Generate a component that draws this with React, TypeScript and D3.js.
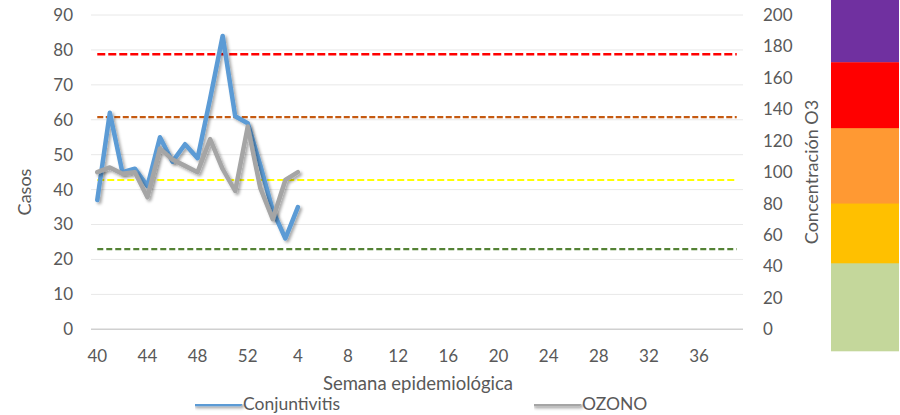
import React, { useEffect, useRef } from 'react';
import * as d3 from 'd3';

// semanas epidemiologicas (40 a 52, luego 1 a 39)
const weeks = [40, 41, 42, 43, 44, 45, 46, 47, 48, 49, 50, 51, 52,
  1, 2, 3, 4, 5, 6, 7, 8, 9, 10, 11, 12, 13, 14, 15, 16, 17, 18, 19, 20,
  21, 22, 23, 24, 25, 26, 27, 28, 29, 30, 31, 32, 33, 34, 35, 36, 37, 38, 39];
const tickWeeks = [40, 44, 48, 52, 4, 8, 12, 16, 20, 24, 28, 32, 36];

const conjuntivitis = [37, 62, 45, 46, 41, 55, 48, 53, 49, 66, 84, 61, 59, 47, 34, 26, 35];
const ozono = [100, 103, 99, 100, 84, 115, 108, 104, 100, 121, 102, 88, 129, 90, 70, 95, 100];

const leftTicks = [0, 10, 20, 30, 40, 50, 60, 70, 80, 90];
const rightTicks = [0, 20, 40, 60, 80, 100, 120, 140, 160, 180, 200];

// limites de ozono (ppb) en eje secundario
const limits = [
  { value: 175, color: '#ff0000', dash: '8,3', w: 2.6 },
  { value: 135, color: '#c55a11', dash: '6,2.5', w: 2.2 },
  { value: 95, color: '#ffff00', dash: '7,3', w: 2.2 },
  { value: 51, color: '#548235', dash: '6,3', w: 2.2 },
];

// bandas de color a la derecha (valores del eje secundario)
const bands = [
  { from: 36, to: 84, color: '#ffc000' },
  { from: 80, to: 130, color: '#ff9933' },
  { from: 128, to: 170, color: '#ff0000' },
  { from: 170, to: 210, color: '#7030a0' },
  { from: -14, to: 42, color: '#c4d79b' },
];

const font = 'Lato, "Open Sans", sans-serif';

const App = () => {
  const ref = useRef<SVGSVGElement>(null);

  useEffect(() => {
    const width = 900, height = 415;
    const left = 91, right = 743, top = 15, bottom = 329.3;
    const svg = d3.select(ref.current);
    svg.selectAll('*').remove();

    const x = d3.scaleBand<number>().domain(weeks).range([left, right]).padding(0);
    const cx = (i: number) => (x(weeks[i]) as number) + x.bandwidth() / 2;
    const y = d3.scaleLinear().domain([0, 90]).range([bottom, top]);
    const y2 = d3.scaleLinear().domain([0, 200]).range([bottom, top]);

    const defs = svg.append('defs');
    const f = defs.append('filter').attr('id', 'sh').attr('filterUnits', 'userSpaceOnUse')
      .attr('x', 0).attr('y', 0).attr('width', width).attr('height', height);
    f.append('feDropShadow').attr('dx', 2).attr('dy', 2).attr('stdDeviation', 1.8)
      .attr('flood-color', '#000').attr('flood-opacity', 0.35);

    // gridlines
    svg.append('g').selectAll('line').data(leftTicks).enter().append('line')
      .attr('x1', left).attr('x2', right)
      .attr('y1', d => y(d)).attr('y2', d => y(d))
      .attr('stroke', d => (d === 0 ? '#d0d0d0' : '#e8e8e8'))
      .attr('stroke-width', d => (d === 0 ? 1.5 : 1));

    // left ticks
    svg.append('g').selectAll('text').data(leftTicks).enter().append('text')
      .attr('x', 73).attr('y', d => y(d)).attr('dy', '0.35em')
      .attr('text-anchor', 'end').attr('font-family', font).attr('font-size', 17)
      .attr('fill', '#595959').text(d => d);

    // right ticks
    svg.append('g').selectAll('text').data(rightTicks).enter().append('text')
      .attr('x', 763).attr('y', d => y2(d)).attr('dy', '0.35em')
      .attr('text-anchor', 'start').attr('font-family', font).attr('font-size', 17)
      .attr('fill', '#595959').text(d => d);

    // x ticks
    svg.append('g').selectAll('text').data(tickWeeks).enter().append('text')
      .attr('x', d => (x(d) as number) + x.bandwidth() / 2).attr('y', 356).attr('dy', '0.35em')
      .attr('text-anchor', 'middle').attr('font-family', font).attr('font-size', 17)
      .attr('fill', '#595959').text(d => d);

    // titles
    svg.append('text').attr('transform', 'translate(25,192) rotate(-90)')
      .attr('dy', '0.35em').attr('text-anchor', 'middle').attr('font-family', font)
      .attr('font-size', 18).attr('fill', '#595959').text('Casos');
    svg.append('text').attr('transform', 'translate(812,172) rotate(-90)')
      .attr('dy', '0.35em').attr('text-anchor', 'middle').attr('font-family', font)
      .attr('font-size', 18).attr('fill', '#595959').text('Concentración O3');
    svg.append('text').attr('x', 418).attr('y', 384).attr('dy', '0.35em')
      .attr('text-anchor', 'middle').attr('font-family', font).attr('font-size', 18.5)
      .attr('fill', '#595959').text('Semana epidemiológica');

    // threshold lines
    svg.append('g').selectAll('line').data(limits).enter().append('line')
      .attr('x1', cx(0)).attr('x2', cx(weeks.length - 1))
      .attr('y1', d => y2(d.value)).attr('y2', d => y2(d.value))
      .attr('stroke', d => d.color).attr('stroke-width', d => d.w)
      .attr('stroke-dasharray', d => d.dash);

    const lineL = d3.line<number>().x((_, i) => cx(i)).y(d => y(d));
    const lineR = d3.line<number>().x((_, i) => cx(i)).y(d => y2(d));

    svg.append('path').datum(conjuntivitis).attr('d', lineL)
      .attr('fill', 'none').attr('stroke', '#5b9bd5').attr('stroke-width', 4.5)
      .attr('stroke-linejoin', 'round').attr('stroke-linecap', 'round')
      .attr('filter', 'url(#sh)');
    svg.append('path').datum(ozono).attr('d', lineR)
      .attr('fill', 'none').attr('stroke', '#a5a5a5').attr('stroke-width', 4.5)
      .attr('stroke-linejoin', 'round').attr('stroke-linecap', 'round')
      .attr('filter', 'url(#sh)');

    // legend
    const legend = [
      { name: 'Conjuntivitis', color: '#5b9bd5', x: 195 },
      { name: 'OZONO', color: '#a5a5a5', x: 534 },
    ];
    const lg = svg.append('g').selectAll('g').data(legend).enter().append('g')
      .attr('transform', d => `translate(${d.x},404)`);
    lg.append('line').attr('x1', 0).attr('x2', 45).attr('y1', 0).attr('y2', 0)
      .attr('stroke', d => d.color).attr('stroke-width', 4.5).attr('stroke-linecap', 'round')
      .attr('filter', 'url(#sh)');
    lg.append('text').attr('x', 48).attr('dy', '0.35em').attr('font-family', font)
      .attr('font-size', 17.5).attr('fill', '#595959').text(d => d.name);

    // colour bands
    svg.append('g').selectAll('rect').data(bands).enter().append('rect')
      .attr('x', 831).attr('width', 68)
      .attr('y', d => y2(d.to)).attr('height', d => y2(d.from) - y2(d.to))
      .attr('fill', d => d.color);

    svg.attr('width', width).attr('height', height);
  }, []);

  return (
    <div style={{ position: 'absolute', left: 0, top: 0, background: '#fff' }}>
      <svg ref={ref} width={900} height={415} style={{ display: 'block' }} />
    </div>
  );
};

export default App;
